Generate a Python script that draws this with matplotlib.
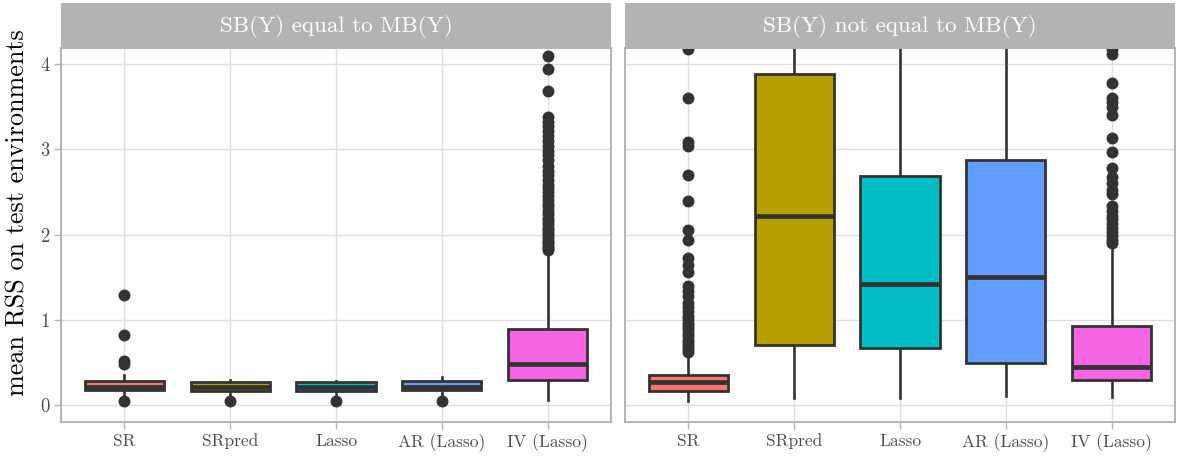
import matplotlib
matplotlib.use("Agg")
import matplotlib.pyplot as plt

plt.rcParams["font.family"] = ["cmr10", "DejaVu Serif"]
plt.rcParams["axes.formatter.use_mathtext"] = True
plt.rcParams["axes.unicode_minus"] = False

# Methods and their fill colours
methods = ["SR", "SRpred", "Lasso", "AR (Lasso)", "IV (Lasso)"]
colors = ["#F8766D", "#B79F00", "#00BFC4", "#619CFF", "#F564E3"]
panel_titles = ["SB(Y) equal to MB(Y)", "SB(Y) not equal to MB(Y)"]

# Panel 1: SB(Y) equal to MB(Y)
eq_q1 = [0.175, 0.170, 0.170, 0.180, 0.30]
eq_med = [0.220, 0.210, 0.210, 0.215, 0.49]
eq_q3 = [0.285, 0.275, 0.270, 0.280, 0.90]
eq_lo = [0.11, 0.11, 0.11, 0.11, 0.06]
eq_hi = [0.36, 0.30, 0.29, 0.33, 1.78]
eq_out_sr = [1.29, 0.82, 0.52, 0.48, 0.05]
eq_out_srpred = [0.05]
eq_out_lasso = [0.05]
eq_out_ar = [0.05]
eq_out_iv = [4.09, 3.94, 3.68, 3.38, 3.32, 3.27, 3.22, 3.15, 3.10, 3.04,
             2.98, 2.93, 2.87, 2.80, 2.75, 2.70, 2.64, 2.58, 2.55, 2.50,
             2.45, 2.41, 2.36, 2.32, 2.28, 2.24, 2.20, 2.16, 2.12, 2.08,
             2.05, 2.02, 1.99, 1.96, 1.93, 1.90, 1.87, 1.84, 1.82]

# Panel 2: SB(Y) not equal to MB(Y)
ne_q1 = [0.17, 0.71, 0.67, 0.50, 0.30]
ne_med = [0.27, 2.22, 1.42, 1.50, 0.45]
ne_q3 = [0.36, 3.88, 2.69, 2.87, 0.93]
ne_lo = [0.05, 0.08, 0.08, 0.11, 0.10]
ne_hi = [0.58, 8.60, 5.70, 6.40, 1.86]
ne_out_sr = [4.17, 3.60, 3.09, 3.04, 2.70, 2.39, 2.05, 1.94, 1.73, 1.65,
             1.56, 1.40, 1.34, 1.28, 1.20, 1.15, 1.10, 1.05, 1.01, 0.97,
             0.93, 0.89, 0.85, 0.81, 0.77, 0.73, 0.70, 0.66, 0.63]
ne_out_srpred = []
ne_out_lasso = []
ne_out_ar = []
ne_out_iv = [4.17, 4.12, 3.78, 3.60, 3.55, 3.50, 3.40, 3.13, 2.97, 2.78,
             2.68, 2.60, 2.52, 2.48, 2.33, 2.28, 2.22, 2.18, 2.13, 2.08,
             2.03, 1.98, 1.94, 1.90]

y_ticks = [0, 1, 2, 3, 4]

panels = [
    (eq_q1, eq_med, eq_q3, eq_lo, eq_hi,
     [eq_out_sr, eq_out_srpred, eq_out_lasso, eq_out_ar, eq_out_iv]),
    (ne_q1, ne_med, ne_q3, ne_lo, ne_hi,
     [ne_out_sr, ne_out_srpred, ne_out_lasso, ne_out_ar, ne_out_iv]),
]

W, H = 1181, 457
fig = plt.figure(figsize=(W / 100, H / 100), dpi=100)

dark = "#333333"
border = "#B3B3B3"
grid = "#DEDEDE"
tick_txt = "#4D4D4D"

panel_left = [61, 625]
panel_w = 550
panel_top, panel_bot = 48, 422.3
strip_top = 3

for i, (q1, med, q3, lo, hi, outs) in enumerate(panels):
    ax = fig.add_axes([panel_left[i] / W, (H - panel_bot) / H,
                       panel_w / W, (panel_bot - panel_top) / H])
    stats = []
    for j in range(len(methods)):
        stats.append(dict(q1=q1[j], med=med[j], q3=q3[j],
                          whislo=lo[j], whishi=hi[j], fliers=outs[j]))
    positions = list(range(1, len(methods) + 1))
    bp = ax.bxp(stats, positions=positions, widths=0.75, patch_artist=True,
                showcaps=False,
                boxprops=dict(edgecolor=dark, linewidth=2.0),
                medianprops=dict(color=dark, linewidth=3.4, solid_capstyle="butt"),
                whiskerprops=dict(color=dark, linewidth=1.9),
                flierprops=dict(marker="o", markerfacecolor=dark,
                                markeredgecolor=dark, markeredgewidth=0,
                                markersize=8.6))
    for patch, c in zip(bp["boxes"], colors):
        patch.set_facecolor(c)
        patch.set_zorder(3)
    for ln in bp["medians"]:
        ln.set_zorder(4)

    ax.set_xlim(0.4, 5.6)
    ax.set_ylim(-0.199, 4.187)
    ax.set_xticks(positions)
    ax.set_xticklabels(methods)
    ax.set_yticks(y_ticks)
    ax.grid(True, color=grid, linewidth=1.0, zorder=0)
    ax.set_axisbelow(True)
    for s in ax.spines.values():
        s.set_color(border)
        s.set_linewidth(1.4)
    ax.tick_params(axis="both", color=border, length=5, width=1.0,
                   labelcolor=tick_txt, pad=3)
    ax.tick_params(axis="x", labelsize=12.5)
    ax.tick_params(axis="y", labelsize=13.5)
    if i == 0:
        ax.set_yticklabels([str(t) for t in y_ticks])
    else:
        ax.tick_params(axis="y", length=0, labelleft=False)

    sax = fig.add_axes([panel_left[i] / W, (H - panel_top) / H,
                        panel_w / W, (panel_top - strip_top) / H])
    sax.set_facecolor(border)
    sax.set_xticks([])
    sax.set_yticks([])
    for s in sax.spines.values():
        s.set_visible(False)
    sax.text(0.5, 0.48, panel_titles[i], transform=sax.transAxes,
             ha="center", va="center", color="white", fontsize=16.6)

fig.text(18 / W, (H - (strip_top + panel_bot) / 2) / H,
         "mean RSS on test environments", rotation=90,
         ha="center", va="center", fontsize=18.8, color="black")

fig.savefig("out.png", dpi=100, facecolor="white")
